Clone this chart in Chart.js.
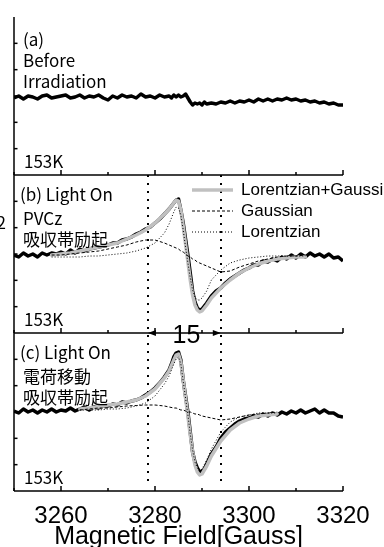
<!DOCTYPE html>
<html lang="ja">
<head>
<meta charset="UTF-8">
<title>ESR spectra 153K</title>
<script src="https://cdn.jsdelivr.net/npm/chart.js"></script>
<style>
  html, body { margin: 0; padding: 0; background: #fff; }
  #wrap { position: relative; width: 384px; height: 547px; }
</style>
</head>
<body>
<div id="wrap"><canvas id="esr" width="384" height="547"></canvas></div>
<script>
// magnetic field [Gauss] for the measured traces
var field = [3250, 3251, 3252, 3253, 3254, 3255, 3256, 3257, 3258, 3259,
             3260, 3261, 3262, 3263, 3264, 3265, 3266, 3267, 3268, 3269,
             3270, 3271, 3272, 3273, 3274, 3275, 3276, 3277, 3278, 3279,
             3280, 3281, 3282,
             3283, 3283.5, 3284, 3284.5, 3285, 3285.5, 3286, 3286.5, 3287, 3287.5,
             3288, 3288.5, 3289, 3289.5, 3290, 3290.5, 3291, 3292,
             3293, 3294, 3295, 3296, 3297, 3298, 3299, 3300, 3301, 3302,
             3303, 3304, 3305, 3306, 3307, 3308, 3309, 3310, 3311, 3312,
             3313, 3314, 3315, 3316, 3317, 3318, 3319, 3320];

// signal of each panel (arbitrary units, panel height = 158)
var signalA = [77, 79, 76, 79, 78, 76, 79, 80, 77, 78,
               79, 80, 77, 78, 80, 77, 79, 78, 80, 77,
               75, 79, 77, 80, 78, 79, 77, 81, 78, 79,
               77, 80, 78,
               79, 77, 80, 78, 80, 78, 79, 81, 77, 73,
               70, 72, 71, 72, 70, 73, 71, 72,
               71, 73, 72, 74, 72, 74, 73, 75, 73, 76,
               74, 76, 74, 76, 75, 77, 75, 76, 74, 75,
               73, 74, 72, 73, 71, 72, 70, 70];
var signalB = [78, 76, 80, 77, 79, 76, 80, 78, 80, 79,
               81, 79, 83, 80, 84, 82, 84, 85, 86, 87,
               88, 90, 90, 93, 94, 96, 99, 101, 104, 106,
               110, 114, 119,
               124, 127, 130, 133, 134, 123, 110, 94, 78, 60,
               42, 31, 25, 23, 24, 27, 30, 37,
               42, 45, 50, 54, 57, 60, 63, 65, 68, 68,
               72, 71, 74, 72, 76, 74, 78, 75, 79, 76,
               80, 77, 79, 76, 79, 75, 76, 72];
var signalC = [80, 78, 82, 79, 81, 78, 81, 79, 82, 79,
               81, 80, 83, 80, 82, 84, 81, 84, 83, 85,
               85, 87, 86, 89, 88, 90, 91, 93, 96, 99,
               103, 108, 114,
               121, 127, 134, 138, 139, 131, 111, 95, 79, 59,
               39, 29, 23, 19, 20, 22, 27, 37,
               44, 53, 59, 63, 67, 70, 72, 73, 75, 74,
               77, 75, 78, 76, 79, 77, 80, 78, 81, 78,
               80, 82, 78, 81, 78, 78, 75, 74];

// fitted components
var fitField = [3258, 3260, 3262, 3264, 3266, 3268, 3270, 3272, 3274, 3276,
                3278, 3280, 3282, 3283, 3284, 3284.5, 3285, 3285.5, 3286, 3286.5,
                3287, 3287.5, 3288, 3288.5, 3289, 3289.5, 3290, 3291, 3292, 3294,
                3296, 3298, 3300, 3302, 3304, 3306, 3308, 3310, 3312];
var sumB   = [78, 79, 80, 82, 84, 86, 88, 90, 94, 98,
              103, 110, 119, 124, 130, 133, 132, 123, 107, 89,
              71, 53, 38, 28, 23, 21, 22, 28, 35, 45,
              53, 60, 65, 69, 72, 74, 75, 76, 76];
var gaussB = [78, 78, 79, 80, 81, 82, 84, 86, 88, 91,
              93, 93, 90, 88, 86, 85, 84, 82, 81, 79,
              77, 76, 74, 73, 71, 70, 69, 67, 65, 61,
              62, 66, 69, 72, 74, 76, 77, 77, 78];
var lorB   = [76, 76, 76, 76, 77, 77, 78, 79, 80, 82,
              85, 90, 100, 109, 121, 126, 125, 118, 103, 86,
              70, 55, 43, 36, 33, 33, 35, 42, 53, 63,
              70, 73, 75, 76, 77, 77, 77, 77, 77];
var sumC   = [null, null, null, 82, 83, 84, 86, 87, 89, 91,
              95, 102, 113, 120, 131, 136, 137, 129, 111, 93,
              75, 56, 39, 26, 19, 16, 17, 25, 35, 50,
              61, 68, 72, 75, 76, 77, null, null, null];
var gaussC = [null, null, null, 81, 82, 83, 83, 84, 85, 85.5,
              86, 86, 85, 84, 83, 83, 82, 81, 81, 80,
              79, 79, 78, 77, 77, 76, 75, 74, 73, 71,
              72, 74, 76, 77, 78, 79, null, null, null];
var lorC   = [null, null, null, 81, 81, 81, 82, 82, 83, 85,
              88, 95, 107, 115, 127, 132, 134, 127, 110, 93,
              76, 57, 41, 29, 23, 20, 22, 31, 42, 59,
              69, 74, 76, 78, 78, 78, null, null, null];

var panelHeight = 158;
var panelOffset = [316, 158, 0];          // (a), (b), (c) from top to bottom
var xTicks = [3260, 3280, 3300, 3320];
var xMinorTicks = [3250, 3260, 3270, 3280, 3290, 3300, 3310, 3320];
var markerField = [3278.5, 3294];
var markerLabel = '15';
var panelNotes = [
  ['(a)', 'Before', 'Irradiation'],
  ['(b) Light On', 'PVCz', '吸収帯励起'],
  ['(c) Light On', '電荷移動', '吸収帯励起']
];
var tempLabel = '153K';
var legendNames = ['Lorentzian+Gaussian', 'Gaussian', 'Lorentzian'];

function pts(xs, ys, offset) {
  return xs.map(function (x, i) {
    return { x: x, y: ys[i] === null ? null : ys[i] + offset };
  });
}

function trace(xs, ys, offset, style) {
  var ds = {
    data: pts(xs, ys, offset),
    borderColor: '#000',
    borderWidth: 1,
    pointRadius: 0,
    tension: 0,
    spanGaps: false,
    borderJoinStyle: 'round'
  };
  for (var k in style) ds[k] = style[k];
  return ds;
}

var dataStyle = { borderWidth: 3.5, order: 3 };
var sumStyle = { borderColor: 'rgb(192,192,192)', borderWidth: 3.5, borderCapStyle: 'round', order: 2 };
var gaussStyle = { borderWidth: 1, borderDash: [3, 2], order: 1 };
var lorStyle = { borderWidth: 1, borderDash: [1, 2], order: 1 };

var frame = {
  id: 'frame',
  beforeDatasetsDraw: function (chart) {
    var ctx = chart.ctx, x = chart.scales.x, y = chart.scales.y;
    ctx.save();
    ctx.strokeStyle = '#000';
    ctx.lineWidth = 2;
    ctx.setLineDash([2, 6]);
    markerField.forEach(function (f) {
      var px = Math.round(x.getPixelForValue(f));
      ctx.beginPath();
      ctx.moveTo(px, y.getPixelForValue(316));
      ctx.lineTo(px, y.getPixelForValue(5));
      ctx.stroke();
    });
    ctx.restore();
  },
  afterDatasetsDraw: function (chart) {
    var ctx = chart.ctx, x = chart.scales.x, y = chart.scales.y, a = chart.chartArea;
    ctx.save();
    ctx.strokeStyle = '#000';
    ctx.lineWidth = 1.5;
    // left axis
    ctx.beginPath();
    ctx.moveTo(a.left, a.top);
    ctx.lineTo(a.left, a.bottom);
    ctx.stroke();
    panelOffset.forEach(function (off) {
      var by = y.getPixelForValue(off);
      ctx.beginPath();
      ctx.moveTo(a.left, by);
      ctx.lineTo(a.right, by);
      ctx.stroke();
      xMinorTicks.forEach(function (f) {
        var len = (f - 3260) % 20 === 0 ? 5 : 3;
        var px = x.getPixelForValue(f);
        ctx.beginPath();
        ctx.moveTo(px, by);
        ctx.lineTo(px, by - len);
        ctx.stroke();
      });
      for (var k = 1; k < 6; k++) {
        var ty = y.getPixelForValue(off + k * panelHeight / 6);
        ctx.beginPath();
        ctx.moveTo(a.left, ty);
        ctx.lineTo(a.left + 3.5, ty);
        ctx.stroke();
      }
    });

    // 15 G arrow on the (b)/(c) boundary
    var ay = y.getPixelForValue(158);
    var x1 = x.getPixelForValue(markerField[0]);
    var x2 = x.getPixelForValue(markerField[1]);
    ctx.fillStyle = '#000';
    ctx.beginPath();
    ctx.moveTo(x1, ay); ctx.lineTo(x1 + 8, ay - 3); ctx.lineTo(x1 + 8, ay + 3); ctx.closePath();
    ctx.fill();
    ctx.beginPath();
    ctx.moveTo(x2, ay); ctx.lineTo(x2 - 8, ay - 3); ctx.lineTo(x2 - 8, ay + 3); ctx.closePath();
    ctx.fill();
    ctx.font = '25px "Liberation Sans", Arial, sans-serif';
    ctx.textAlign = 'center';
    ctx.textBaseline = 'middle';
    ctx.fillText(markerLabel, (x1 + x2) / 2 + 2, ay + 3);

    // panel notes
    ctx.font = '17px "Noto Sans CJK JP", sans-serif';
    ctx.textAlign = 'left';
    panelOffset.forEach(function (off, p) {
      var top = y.getPixelForValue(off + panelHeight);
      var first = p === 0 ? 23 : 20;
      panelNotes[p].forEach(function (t, i) {
        var lx = a.left + (i === 0 && p > 0 ? 6 : 9);
        ctx.fillText(t, lx, top + first + i * 21 + (i > 0 && p > 0 ? 3 : 0));
      });
      ctx.fillText(tempLabel, a.left + 10, top + 145);
    });
    // clipped tick label at the far left
    ctx.textAlign = 'right';
    ctx.fillText('2', 6, y.getPixelForValue(158 + 110));

    // legend inside panel (b)
    var ly = y.getPixelForValue(316);
    var lx0 = 192, lx1 = 233;
    ctx.font = '17px "Liberation Sans", Arial, sans-serif';
    ctx.textAlign = 'left';
    var styles = [sumStyle, gaussStyle, lorStyle];
    legendNames.forEach(function (n, i) {
      var yy = ly + 15 + i * 21;
      ctx.save();
      ctx.strokeStyle = styles[i].borderColor || '#000';
      ctx.lineWidth = styles[i].borderWidth;
      ctx.setLineDash(styles[i].borderDash || []);
      ctx.beginPath();
      ctx.moveTo(lx0, yy);
      ctx.lineTo(lx1, yy);
      ctx.stroke();
      ctx.restore();
      ctx.fillText(n, 241, yy);
    });
    ctx.restore();
  }
};

new Chart(document.getElementById('esr').getContext('2d'), {
  type: 'line',
  data: {
    datasets: [
      trace(field, signalA, panelOffset[0], dataStyle),
      trace(field, signalB, panelOffset[1], dataStyle),
      trace(fitField, sumB, panelOffset[1], sumStyle),
      trace(fitField, gaussB, panelOffset[1], gaussStyle),
      trace(fitField, lorB, panelOffset[1], lorStyle),
      trace(field, signalC, panelOffset[2], dataStyle),
      trace(fitField, sumC, panelOffset[2], sumStyle),
      trace(fitField, gaussC, panelOffset[2], gaussStyle),
      trace(fitField, lorC, panelOffset[2], lorStyle)
    ]
  },
  options: {
    responsive: false,
    animation: false,
    devicePixelRatio: 1,
    layout: { padding: { left: 14, right: 41, top: 17, bottom: 0 } },
    plugins: { legend: { display: false }, tooltip: { enabled: false } },
    scales: {
      x: {
        type: 'linear',
        min: 3250,
        max: 3320,
        grid: { display: false, drawTicks: false },
        border: { display: false },
        afterBuildTicks: function (s) {
          s.ticks = xTicks.map(function (v) { return { value: v }; });
        },
        ticks: {
          padding: 0,
          color: '#000',
          callback: function (v) { return String(v); },
          font: { family: '"Liberation Sans", Arial, sans-serif', size: 24, lineHeight: 50 / 24 }
        },
        title: {
          display: true,
          text: 'Magnetic Field[Gauss]',
          color: '#000',
          padding: { top: -16.5, bottom: -2.5 },
          font: { family: '"Liberation Sans", Arial, sans-serif', size: 25, lineHeight: 1 }
        }
      },
      y: {
        type: 'linear',
        display: false,
        min: 0,
        max: 474
      }
    }
  },
  plugins: [frame]
});
</script>
</body>
</html>
